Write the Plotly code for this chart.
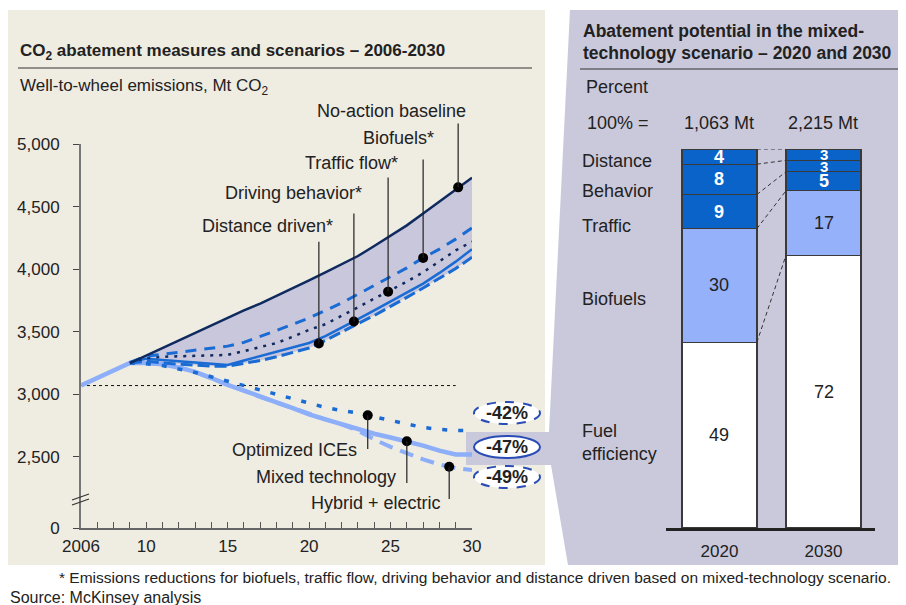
"""
CO2 abatement measures and scenarios - Plotly
"""

import numpy as np
import plotly.graph_objects as go

W, H = 906, 605
PAGE_OFFSET = 8  # default body margin of the html page

# ---- data: well-to-wheel emissions, Mt CO2 ----
mixed_years = list(range(2006, 2031))
mixed_tech = [3070, 3130, 3190, 3250, 3250, 3240, 3215, 3180, 3130, 3075, 3030, 2980, 2935,
              2890, 2840, 2800, 2760, 2720, 2685, 2655, 2625, 2590, 2550, 2520, 2520]

years = list(range(2009, 2031))
baseline = [3250, 3310, 3370, 3430, 3490, 3555, 3615, 3670, 3725, 3785, 3845,
            3910, 3975, 4040, 4105, 4185, 4265, 4350, 4445, 4540, 4640, 4730]
biofuels = [3255, 3305, 3320, 3335, 3350, 3365, 3385, 3415, 3460, 3510, 3560,
            3610, 3670, 3730, 3800, 3870, 3945, 4010, 4090, 4160, 4240, 4330]
traffic_flow = [3255, 3290, 3300, 3305, 3310, 3312, 3315, 3345, 3375, 3410, 3460,
                3515, 3560, 3625, 3695, 3765, 3830, 3900, 3975, 4060, 4150, 4220]
driving_behavior = [3255, 3285, 3275, 3265, 3255, 3245, 3235, 3270, 3305, 3340, 3370,
                    3410, 3465, 3530, 3600, 3670, 3740, 3810, 3885, 3970, 4060, 4160]
distance_driven = [3250, 3265, 3250, 3240, 3230, 3225, 3225, 3245, 3270, 3300, 3335,
                   3370, 3430, 3500, 3565, 3630, 3700, 3775, 3850, 3925, 4005, 4095]
optimized_ice = [3250, 3245, 3230, 3205, 3175, 3140, 3105, 3070, 3035, 3000, 2965,
                 2925, 2895, 2870, 2850, 2820, 2790, 2760, 2735, 2720, 2710, 2710]
hybrid_electric = [3250, 3250, 3240, 3215, 3180, 3130, 3075, 3030, 2980, 2935, 2890,
                   2840, 2800, 2760, 2710, 2640, 2580, 2530, 2480, 2440, 2410, 2395]

scenario_pct = ["-42%", "-47%", "-49%"]

# ---- data: abatement potential, percent ----
bar_years = ["2020", "2030"]
bar_totals = ["1,063 Mt", "2,215 Mt"]
segments = ["Fuel efficiency", "Biofuels", "Traffic", "Behavior", "Distance"]
share_2020 = [49, 30, 9, 8, 4]
share_2030 = [72, 17, 5, 3, 3]


def fx(px):
    return (px - PAGE_OFFSET) / W


def fy(py):
    return 1 - (py - PAGE_OFFSET) / H


def yv(py):
    # picture row -> emissions value on the left axis
    return 5000 - (py - 144) * 8


FONT = "Liberation Sans, Arial, sans-serif"
INK = "#222222"
BLUE = "#1A6BD3"
NAVY = "#0E2A5E"
LIGHT = "#8DAEF8"
LAVENDER = "#CAC9DC"
BEIGE = "#EFECE2"
Y_ORIGIN = 1932  # value drawn at the "0" of the broken axis

fig = go.Figure()

# shaded band between baseline and the lowest lever line
fig.add_trace(go.Scatter(x=years, y=distance_driven, mode="lines",
                         line=dict(width=0), hoverinfo="skip"))
fig.add_trace(go.Scatter(x=years, y=baseline, mode="lines", line=dict(width=0),
                         fill="tonexty", fillcolor="#C8C7DC", hoverinfo="skip"))

# 2006 reference level
fig.add_trace(go.Scatter(x=[2006, 2029], y=[mixed_tech[0], mixed_tech[0]], mode="lines",
                         line=dict(color="#111", width=1, dash="3px,3px")))

fig.add_trace(go.Scatter(x=years, y=hybrid_electric, mode="lines",
                         line=dict(color=LIGHT, width=4, dash="14px,8px")))
fig.add_trace(go.Scatter(x=mixed_years, y=mixed_tech, mode="lines",
                         line=dict(color=LIGHT, width=4.5)))
fig.add_trace(go.Scatter(x=years, y=optimized_ice, mode="lines",
                         line=dict(color=BLUE, width=3.5, dash="5px,11px")))
fig.add_trace(go.Scatter(x=years, y=distance_driven, mode="lines",
                         line=dict(color=BLUE, width=3, dash="12px,5px")))
fig.add_trace(go.Scatter(x=years, y=driving_behavior, mode="lines",
                         line=dict(color=BLUE, width=2.5)))
fig.add_trace(go.Scatter(x=years, y=traffic_flow, mode="lines",
                         line=dict(color=NAVY, width=2.5, dash="3px,6px")))
fig.add_trace(go.Scatter(x=years, y=biofuels, mode="lines",
                         line=dict(color=BLUE, width=3, dash="11px,8px")))
fig.add_trace(go.Scatter(x=years, y=baseline, mode="lines",
                         line=dict(color=NAVY, width=2.5)))

# label dots on each line
dot_series = [baseline, biofuels, traffic_flow, driving_behavior, distance_driven,
              optimized_ice, mixed_tech, hybrid_electric]
dot_x = [2029.15, 2027.0, 2024.85, 2022.75, 2020.6, 2023.6, 2026.0, 2028.6]
dot_y = []
for s, xd in zip(dot_series, dot_x):
    xs = mixed_years if len(s) == len(mixed_years) else years
    dot_y.append(float(np.interp(xd, xs, s)))
fig.add_trace(go.Scatter(x=dot_x, y=dot_y, mode="markers", cliponaxis=False,
                         marker=dict(color="black", size=10)))

# ---- right panel: stacked bars ----
seg_colors = ["white", "#94B1FA", "#0A63C9", "#0A63C9", "#0A63C9"]
for i, name in enumerate(segments):
    fig.add_trace(go.Bar(
        x=[0, 1], y=[share_2020[i], share_2030[i]], name=name, width=0.72,
        marker=dict(color=seg_colors[i], line=dict(color="#3a3a3a", width=1.2)),
        xaxis="x2", yaxis="y2", hoverinfo="skip",
    ))

cum20 = np.cumsum(share_2020)
cum30 = np.cumsum(share_2030)
for a, b in zip(cum20, cum30):
    fig.add_trace(go.Scatter(x=[0.36, 0.64], y=[a, b], mode="lines", xaxis="x2", yaxis="y2",
                             line=dict(color="#333", width=1, dash="4px,3px")))

annotations = []
for col, shares in enumerate([share_2020, share_2030]):
    base = 0
    for i, v in enumerate(shares):
        dark = i >= 2
        small = dark and v < 4
        annotations.append(dict(
            x=col, y=base + v / 2, xref="x2", yref="y2",
            text="<b>%d</b>" % v if dark else str(v), showarrow=False,
            xanchor="center", yanchor="middle",
            font=dict(size=15 if small else 18,
                      color="white" if dark else INK, family=FONT),
        ))
        base += v

# ---- leaders ----
leader_end = [yv(122), yv(158), yv(176), yv(212), yv(240), yv(450), yv(484), yv(500)]
for xd, yd, ye in zip(dot_x, dot_y, leader_end):
    annotations.append(dict(x=xd, y=yd, xref="x", yref="y", ax=xd, ay=ye,
                            axref="x", ayref="y", showarrow=True, arrowhead=0,
                            arrowwidth=1.2, arrowcolor="#222", text=""))


def txt(t, px, py, size=18, anchor="left", bold=False):
    annotations.append(dict(
        x=fx(px), y=fy(py), xref="paper", yref="paper", xanchor=anchor, yanchor="middle",
        text="<b>%s</b>" % t if bold else t, showarrow=False, align="left",
        font=dict(size=size, color=INK, family=FONT)))


line_labels = [
    ("No-action baseline", 391, 111),
    ("Biofuels*", 398, 138),
    ("Traffic flow*", 351, 163),
    ("Driving behavior*", 293, 193),
    ("Distance driven*", 267, 226),
    ("Optimized ICEs", 294, 450),
    ("Mixed technology", 326, 477),
    ("Hybrid + electric", 376, 503),
]
for t, px, py in line_labels:
    txt(t, px, py, anchor="center")

txt("CO<sub>2</sub> abatement measures and scenarios \u2013 2006-2030", 18, 52, size=17,
    bold=True)
txt("Well-to-wheel emissions, Mt CO<sub>2</sub>", 18, 87, size=17)
txt("Abatement potential in the mixed-", 581, 31, size=17.5, bold=True)
txt("technology scenario \u2013 2020 and 2030", 581, 53, size=17.5, bold=True)
txt("Percent", 584, 87)
txt("100% =", 585, 123)
txt(bar_totals[0], 719, 123, anchor="center")
txt(bar_totals[1], 823, 123, anchor="center")
txt("Distance", 580, 161)
txt("Behavior", 580, 191)
txt("Traffic", 580, 226)
txt("Biofuels", 580, 299)
txt("Fuel<br>efficiency", 580, 442)
txt("* Emissions reductions for biofuels, traffic flow, driving behavior and distance driven "
    "based on mixed-technology scenario.", 57, 577, size=15.5)
txt("Source: McKinsey analysis", 8, 597, size=16)

pct_rows = [413, 447, 477]
shapes = [
    dict(type="rect", xref="paper", yref="paper", x0=fx(8), x1=fx(545), y0=fy(565), y1=fy(10),
         fillcolor=BEIGE, line=dict(width=0), layer="below"),
    dict(type="path", xref="paper", yref="paper", layer="below", fillcolor=LAVENDER,
         line=dict(width=0),
         path="M %f %f L %f %f L %f %f L %f %f L %f %f L %f %f L %f %f L %f %f Z" % (
             fx(570), fy(10), fx(914), fy(10), fx(914), fy(565), fx(568), fy(565),
             fx(551), fy(465), fx(466), fy(465), fx(466), fy(432), fx(549), fy(432))),
    dict(type="line", xref="paper", yref="paper", x0=fx(18), x1=fx(532), y0=fy(68), y1=fy(68),
         line=dict(color="#333", width=1)),
    dict(type="line", xref="paper", yref="paper", x0=fx(580), x1=fx(914), y0=fy(69), y1=fy(69),
         line=dict(color="#333", width=1)),
    # axis break marks
    dict(type="line", xref="paper", yref="paper", x0=fx(72), x1=fx(89), y0=fy(500), y1=fy(494),
         line=dict(color="#333", width=1.2)),
    dict(type="line", xref="paper", yref="paper", x0=fx(72), x1=fx(89), y0=fy(505), y1=fy(499),
         line=dict(color="#333", width=1.2)),
]
for t, py in zip(scenario_pct, pct_rows):
    shapes.append(dict(type="circle", xref="paper", yref="paper", x0=fx(474), x1=fx(540),
                       y0=fy(py + 11), y1=fy(py - 11), fillcolor="white",
                       line=dict(color="#2A4DB5", width=2,
                                 dash="solid" if t == "-47%" else "dash")))
    annotations.append(dict(x=fx(507), y=fy(py), xref="paper", yref="paper",
                            xanchor="center", yanchor="middle", text="<b>%s</b>" % t,
                            showarrow=False, font=dict(size=18, color=INK, family=FONT)))

year_ticks = list(range(2006, 2031))
year_text = ["2006" if y == 2006 else (str(y)[2:] if y % 5 == 0 else "") for y in year_ticks]
y_ticks = [Y_ORIGIN, 2500, 3000, 3500, 4000, 4500, 5000]
y_text = ["0", "2,500", "3,000", "3,500", "4,000", "4,500", "5,000"]

fig.update_layout(
    width=W, height=H,
    margin=dict(l=0, r=0, t=0, b=0, pad=0),
    paper_bgcolor="white",
    plot_bgcolor="rgba(0,0,0,0)",
    showlegend=False,
    barmode="stack",
    font=dict(family=FONT, color=INK, size=17),
    xaxis=dict(domain=[fx(81), fx(472)], range=[2006, 2030], tickvals=year_ticks,
               ticktext=year_text, ticks="inside", ticklen=6, tickcolor="#555",
               showline=True, linecolor="#666", linewidth=2, showgrid=False,
               zeroline=False, ticklabelstandoff=2, tickfont=dict(size=17), anchor="y",
               automargin=False),
    yaxis=dict(domain=[fy(528), fy(144)], range=[Y_ORIGIN, 5000], tickvals=y_ticks,
               ticktext=y_text, ticks="outside", ticklen=6, tickcolor="#444",
               showline=True, linecolor="#777", linewidth=2, showgrid=False,
               zeroline=False, ticklabelstandoff=10, tickfont=dict(size=17), anchor="x",
               automargin=False),
    xaxis2=dict(domain=[fx(666), fx(875)], range=[-0.514, 1.495], tickvals=[0, 1],
                ticktext=bar_years, showline=True, linecolor="#222", linewidth=3,
                showgrid=False, zeroline=False, ticks="", ticklabelstandoff=6,
                tickfont=dict(size=17), anchor="y2", automargin=False),
    yaxis2=dict(domain=[fy(528), fy(149)], range=[0, 100], visible=False, anchor="x2",
                automargin=False),
    shapes=shapes,
    annotations=annotations,
)

fig.write_html("out.html")
